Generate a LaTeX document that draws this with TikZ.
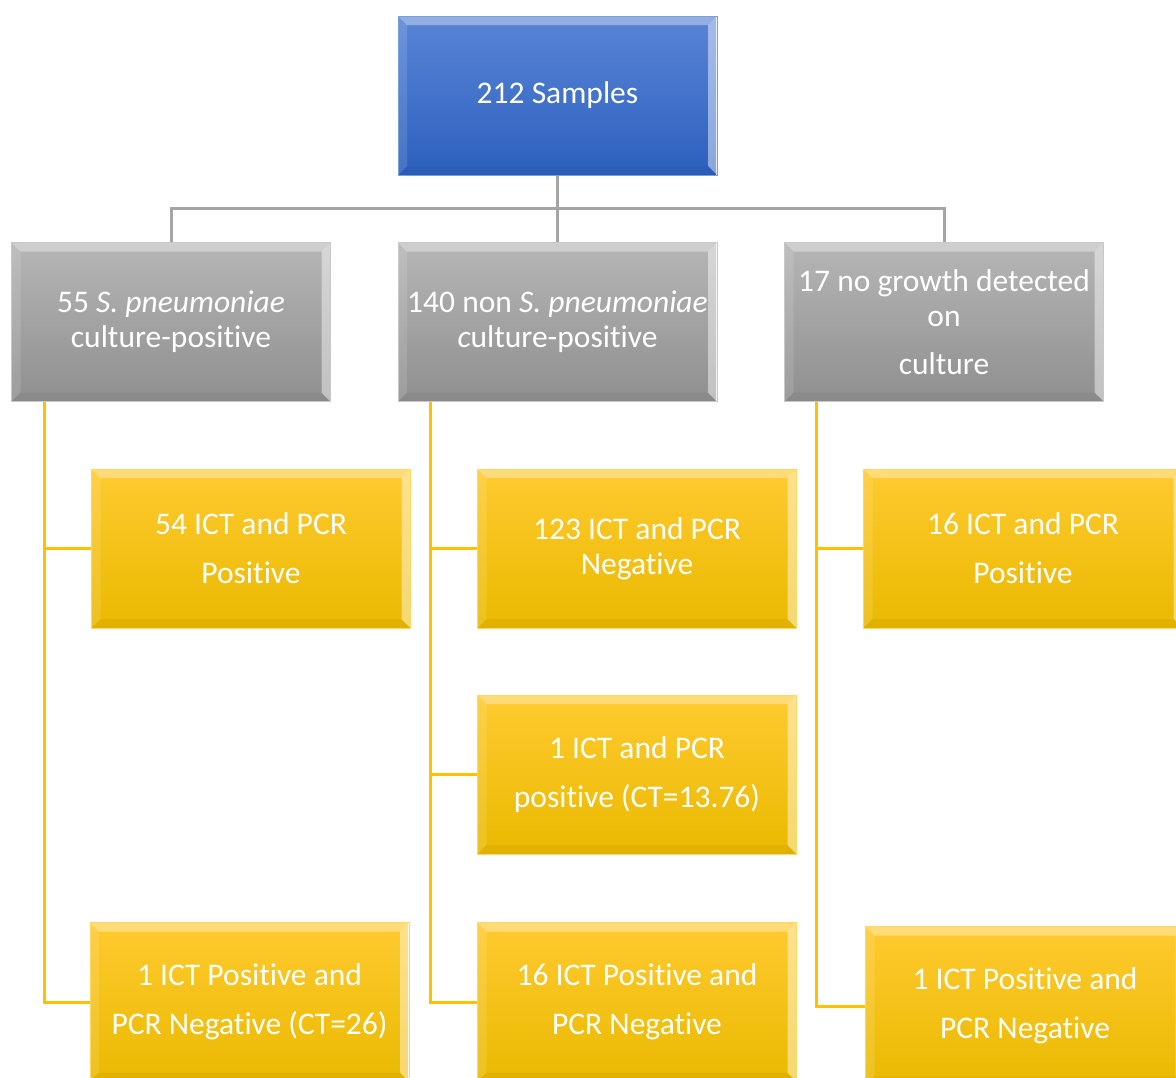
\documentclass[tikz,border=0pt]{standalone}
\usepackage{fontspec}
\setmainfont{Carlito}[RawFeature={-liga;-clig;-calt;-dlig;-rlig}]
\begin{document}
\begin{tikzpicture}[x=1pt,y=-1pt,
  bevel/.style={path picture={
    \def\bb{path picture bounding box}
    \fill[white,opacity=0.35] (\bb.north west) -- (\bb.north east) -- ([xshift=-9pt,yshift=-9pt]\bb.north east) -- ([xshift=9pt,yshift=-9pt]\bb.north west) -- cycle;
    \fill[white,opacity=0.12] (\bb.north west) -- ([xshift=9pt,yshift=-9pt]\bb.north west) -- ([xshift=9pt,yshift=9pt]\bb.south west) -- (\bb.south west) -- cycle;
    \fill[white,opacity=0.45] (\bb.north east) -- ([xshift=-9pt,yshift=-9pt]\bb.north east) -- ([xshift=-9pt,yshift=9pt]\bb.south east) -- (\bb.south east) -- cycle;
    \fill[black,opacity=0.04] (\bb.south west) -- ([xshift=9pt,yshift=9pt]\bb.south west) -- ([xshift=-9pt,yshift=9pt]\bb.south east) -- (\bb.south east) -- cycle;
    \draw[white,line width=2pt,opacity=0.8] (\bb.north east) -- (\bb.south east);
  }},
  box/.style={bevel, rectangle, minimum width=319pt, minimum height=159pt, inner sep=0pt,
    text=white, align=center, font=\fontsize{31.5}{35}\selectfont, line width=1pt},
  bluebox/.style={box, top color={rgb,255:red,90;green,133;blue,214}, bottom color={rgb,255:red,44;green,96;blue,190}, draw={rgb,255:red,120;green,160;blue,225}},
  graybox/.style={box, top color={rgb,255:red,182;green,182;blue,182}, bottom color={rgb,255:red,143;green,143;blue,143}, draw={rgb,255:red,200;green,200;blue,200}},
  yelbox/.style={box, top color={rgb,255:red,255;green,202;blue,48}, bottom color={rgb,255:red,234;green,185;blue,0}, draw={rgb,255:red,255;green,215;blue,100}},
  gline/.style={draw={rgb,255:red,165;green,165;blue,165}, line width=3pt},
  yline/.style={draw={rgb,255:red,255;green,192;blue,0}, line width=3pt}
]
\useasboundingbox (0,0) rectangle (1176,1077);
\clip (0,0) rectangle (1176,1077);

\node[bluebox] (top) at (557.5,95.5) {212 Samples};

\node[graybox] (g1) at (171,322) {55 \textit{S. pneumoniae}\\culture-positive};
\node[graybox] (g2) at (557.5,322) {140 non \textit{S. pneumoniae}\\\textit{c}ulture-positive};
\node[graybox] (g3) at (944,322) {17 no growth detected\\on\\[13pt]culture};

\node[yelbox] (y1a) at (251,548.5) {54 ICT and PCR\\[14pt]Positive};
\node[yelbox] (y1c) at (249.5,1002) {1 ICT Positive and\\[14pt]PCR Negative (CT=26)};

\node[yelbox] (y2a) at (637,548.5) {123 ICT and PCR\\Negative};
\node[yelbox] (y2b) at (637,774.5) {1 ICT and PCR\\[14pt]positive (CT=13.76)};
\node[yelbox] (y2c) at (637,1002) {16 ICT Positive and\\[14pt]PCR Negative};

\node[yelbox] (y3a) at (1023,548.5) {16 ICT and PCR\\[14pt]Positive};
\node[yelbox] (y3c) at (1025,1006) {1 ICT Positive and\\[14pt]PCR Negative};

% gray tree connectors
\coordinate (bus) at (557.5,208);
\draw[gline] (top.south) -- (bus);
\draw[gline] (g1.north) |- (bus) -| (g3.north);
\draw[gline] (bus) -- (g2.north);

% yellow connectors
\coordinate (s1) at (44,402);
\coordinate (s2) at (430,402);
\coordinate (s3) at (816,402);
\draw[yline] (s1) |- (y1a.west);
\draw[yline] (s1) |- (y1c.west);
\draw[yline] (s2) |- (y2a.west);
\draw[yline] (s2) |- (y2b.west);
\draw[yline] (s2) |- (y2c.west);
\draw[yline] (s3) |- (y3a.west);
\draw[yline] (s3) |- (y3c.west);
\end{tikzpicture}
\end{document}
